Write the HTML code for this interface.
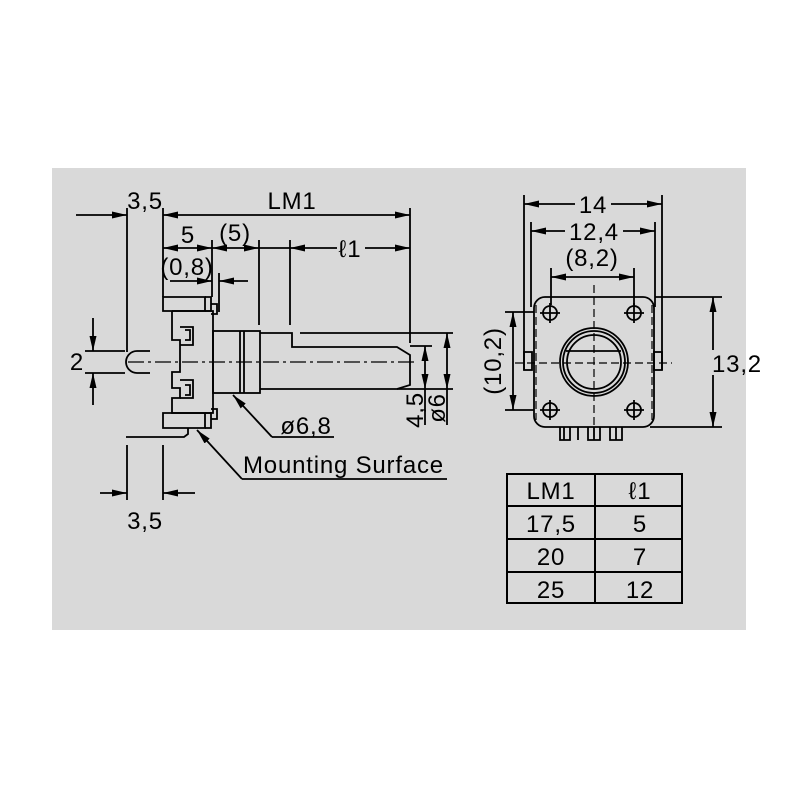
<!DOCTYPE html>
<html><head><style>html,body{margin:0;padding:0;background:#fff}svg{display:block}text{letter-spacing:0.8px}</style></head><body>
<svg width="800" height="800" viewBox="0 0 800 800" xmlns="http://www.w3.org/2000/svg" font-family="Liberation Sans, Arial, sans-serif">
<defs>
<marker id="a" viewBox="0 0 15 7" refX="15" refY="3.5" markerWidth="15" markerHeight="7" markerUnits="userSpaceOnUse" orient="auto"><path d="M0,0L15,3.5L0,7z" fill="#000"/></marker>
</defs>
<rect x="52" y="168" width="694" height="462" fill="#d9d9d9"/>
<g stroke="#000" stroke-width="1.8" fill="none">
<line x1="127" y1="208" x2="127" y2="352"/>
<line x1="163" y1="208" x2="163" y2="297"/>
<line x1="410" y1="208" x2="410" y2="343"/>
<line x1="212" y1="240" x2="212" y2="297"/>
<line x1="259" y1="240" x2="259" y2="325"/>
<line x1="290" y1="240" x2="290" y2="325"/>
<line x1="219" y1="273" x2="219" y2="312"/>
<line x1="76" y1="215" x2="127" y2="215" marker-end="url(#a)"/>
<line x1="286" y1="215" x2="163" y2="215" marker-end="url(#a)"/>
<line x1="286" y1="215" x2="410" y2="215" marker-end="url(#a)"/>
<line x1="187" y1="248" x2="163" y2="248" marker-end="url(#a)"/>
<line x1="187" y1="248" x2="212" y2="248" marker-end="url(#a)"/>
<line x1="235" y1="248" x2="212" y2="248" marker-end="url(#a)"/>
<line x1="235" y1="248" x2="259" y2="248" marker-end="url(#a)"/>
<line x1="259" y1="248" x2="290" y2="248"/>
<line x1="337" y1="248" x2="290" y2="248" marker-end="url(#a)"/>
<line x1="365" y1="248" x2="410" y2="248" marker-end="url(#a)"/>
<line x1="170" y1="281" x2="212" y2="281" marker-end="url(#a)"/>
<line x1="248" y1="281" x2="219" y2="281" marker-end="url(#a)"/>
<line x1="85" y1="351" x2="125" y2="351"/>
<line x1="85" y1="373" x2="125" y2="373"/>
<line x1="93" y1="318" x2="93" y2="351" marker-end="url(#a)"/>
<line x1="93" y1="405" x2="93" y2="373" marker-end="url(#a)"/>
<path d="M150,351 L137,351 A11,11 0 0 0 137,373 L150,373"/>
<path d="M163,297 H205 V311 H163 Z"/>
<path d="M205,297 H211 V311 H205"/>
<path d="M211,304 H217 V314 H211"/>
<path d="M172,311 H213 V413 H172 V398 H180 V388 H172 V372 H180 V340 H172 V311"/>
<path d="M180,327 H193 V345 H180"/><path d="M180,380 H193 V398 H180"/>
<path d="M185,330 H190 V340 H185"/><path d="M185,385 H190 V395 H185"/>
<path d="M163,413 H205 V428 H163 Z"/>
<path d="M205,413 H211 V428 H205"/>
<path d="M211,409 H217 V419 H211"/>
<path d="M188,428 V434 L184,437 H126"/>
<rect x="213" y="331" width="47" height="62"/>
<line x1="240" y1="331" x2="240" y2="393"/><line x1="244" y1="331" x2="244" y2="393"/>
<path d="M260,333 H292 V347 H397 L410,355 V385 L397,389 H260"/>
<line x1="300" y1="333" x2="453" y2="333"/>
<line x1="397" y1="389" x2="453" y2="389"/>
<line x1="410" y1="346" x2="432" y2="346"/>
<line x1="447" y1="362" x2="447" y2="333" marker-end="url(#a)"/>
<line x1="447" y1="362" x2="447" y2="389" marker-end="url(#a)"/>
<line x1="425" y1="368" x2="425" y2="346" marker-end="url(#a)"/>
<line x1="425" y1="368" x2="425" y2="389" marker-end="url(#a)"/>
<line x1="425" y1="389" x2="425" y2="425"/><line x1="447" y1="389" x2="447" y2="425"/>
<line x1="272" y1="437" x2="233" y2="395" marker-end="url(#a)"/><line x1="272" y1="437" x2="334" y2="437"/>
<line x1="242" y1="479" x2="197" y2="430" marker-end="url(#a)"/><line x1="242" y1="479" x2="447" y2="479"/>
<line x1="127" y1="445" x2="127" y2="500"/><line x1="163" y1="445" x2="163" y2="500"/>
<line x1="100" y1="493" x2="127" y2="493" marker-end="url(#a)"/>
<line x1="195" y1="493" x2="163" y2="493" marker-end="url(#a)"/>
</g>
<line x1="128" y1="362" x2="418" y2="362" stroke="#000" stroke-width="1.2" stroke-dasharray="16,4,3,4"/>
<g font-size="24" fill="#000">
<text x="145" y="209" text-anchor="middle">3,5</text>
<text x="292" y="209" text-anchor="middle">LM1</text>
<text x="188" y="243" text-anchor="middle">5</text>
<text x="235" y="241" text-anchor="middle">(5)</text>
<text x="187" y="275" text-anchor="middle">(0,8)</text>
<text x="350" y="257" text-anchor="middle">ℓ1</text>
<text x="77" y="370" text-anchor="middle">2</text>
<text x="306" y="434" text-anchor="middle">ø6,8</text>
<text x="243" y="473">Mounting Surface</text>
<text x="145" y="529" text-anchor="middle">3,5</text>
<text transform="translate(423,410) rotate(-90)" text-anchor="middle">4,5</text>
<text transform="translate(445,408) rotate(-90)" text-anchor="middle">ø6</text>
</g>
<g stroke="#000" stroke-width="1.8" fill="none">
<line x1="524" y1="195" x2="524" y2="370"/><line x1="662" y1="195" x2="662" y2="370"/>
<line x1="531" y1="222" x2="531" y2="307"/><line x1="655" y1="222" x2="655" y2="307"/>
<line x1="551" y1="268" x2="551" y2="305"/><line x1="634" y1="268" x2="634" y2="305"/>
<line x1="575" y1="204" x2="524" y2="204" marker-end="url(#a)"/><line x1="611" y1="204" x2="662" y2="204" marker-end="url(#a)"/>
<line x1="565" y1="231" x2="531" y2="231" marker-end="url(#a)"/><line x1="623" y1="231" x2="655" y2="231" marker-end="url(#a)"/>
<line x1="592" y1="277" x2="551" y2="277" marker-end="url(#a)"/><line x1="592" y1="277" x2="634" y2="277" marker-end="url(#a)"/>
<path d="M545,297 H643 A11,11 0 0 1 654,308 V416 A11,11 0 0 1 643,427 H545 A11,11 0 0 1 534,416 V308 A11,11 0 0 1 545,297 Z"/>
<rect x="524" y="352" width="8" height="18"/><rect x="654" y="352" width="8" height="18"/>
<line x1="655" y1="297" x2="722" y2="297"/><line x1="650" y1="427" x2="722" y2="427"/>
<line x1="713" y1="350" x2="713" y2="297" marker-end="url(#a)"/><line x1="713" y1="375" x2="713" y2="427" marker-end="url(#a)"/>
<line x1="505" y1="312" x2="534" y2="312"/><line x1="505" y1="410" x2="534" y2="410"/>
<line x1="513" y1="360" x2="513" y2="312" marker-end="url(#a)"/><line x1="513" y1="360" x2="513" y2="410" marker-end="url(#a)"/>
<circle cx="550" cy="313" r="7"/><circle cx="634" cy="313" r="7"/><circle cx="550" cy="410" r="7"/><circle cx="634" cy="410" r="7"/>
<path d="M540,313h20M550,303v20M624,313h20M634,303v20M540,410h20M550,400v20M624,410h20M634,400v20"/>
<circle cx="594" cy="362" r="34"/><circle cx="594" cy="362" r="31"/><circle cx="594" cy="362" r="27"/>
<line x1="566" y1="351" x2="621" y2="351"/>
<path d="M560,427v13h10v-13M564,427v13M578,427v13M588,427v13h12v-13M594,427v13M610,427v13h12v-13M616,427v13"/>
</g>
<g stroke="#000" stroke-width="1.2" stroke-dasharray="8,4">
<line x1="594" y1="285" x2="594" y2="440"/><line x1="515" y1="363" x2="672" y2="363"/>
<line x1="536" y1="305" x2="536" y2="420"/><line x1="652" y1="305" x2="652" y2="420"/>
</g>
<g font-size="24" fill="#000">
<text x="593" y="213" text-anchor="middle">14</text>
<text x="594" y="240" text-anchor="middle">12,4</text>
<text x="592" y="266" text-anchor="middle">(8,2)</text>
<text x="737" y="372" text-anchor="middle">13,2</text>
<text transform="translate(501,361) rotate(-90)" text-anchor="middle">(10,2)</text>
</g>
<g stroke="#000" stroke-width="2" fill="none">
<rect x="507" y="474" width="175" height="129"/>
<line x1="595" y1="474" x2="595" y2="603"/>
<line x1="507" y1="506" x2="682" y2="506"/><line x1="507" y1="539" x2="682" y2="539"/><line x1="507" y1="572" x2="682" y2="572"/>
</g>
<g font-size="24" fill="#000" text-anchor="middle">
<text x="551" y="499">LM1</text><text x="640" y="499">ℓ1</text>
<text x="551" y="532">17,5</text><text x="640" y="532">5</text>
<text x="551" y="565">20</text><text x="640" y="565">7</text>
<text x="551" y="598">25</text><text x="640" y="598">12</text>
</g>
</svg>
</body></html>
